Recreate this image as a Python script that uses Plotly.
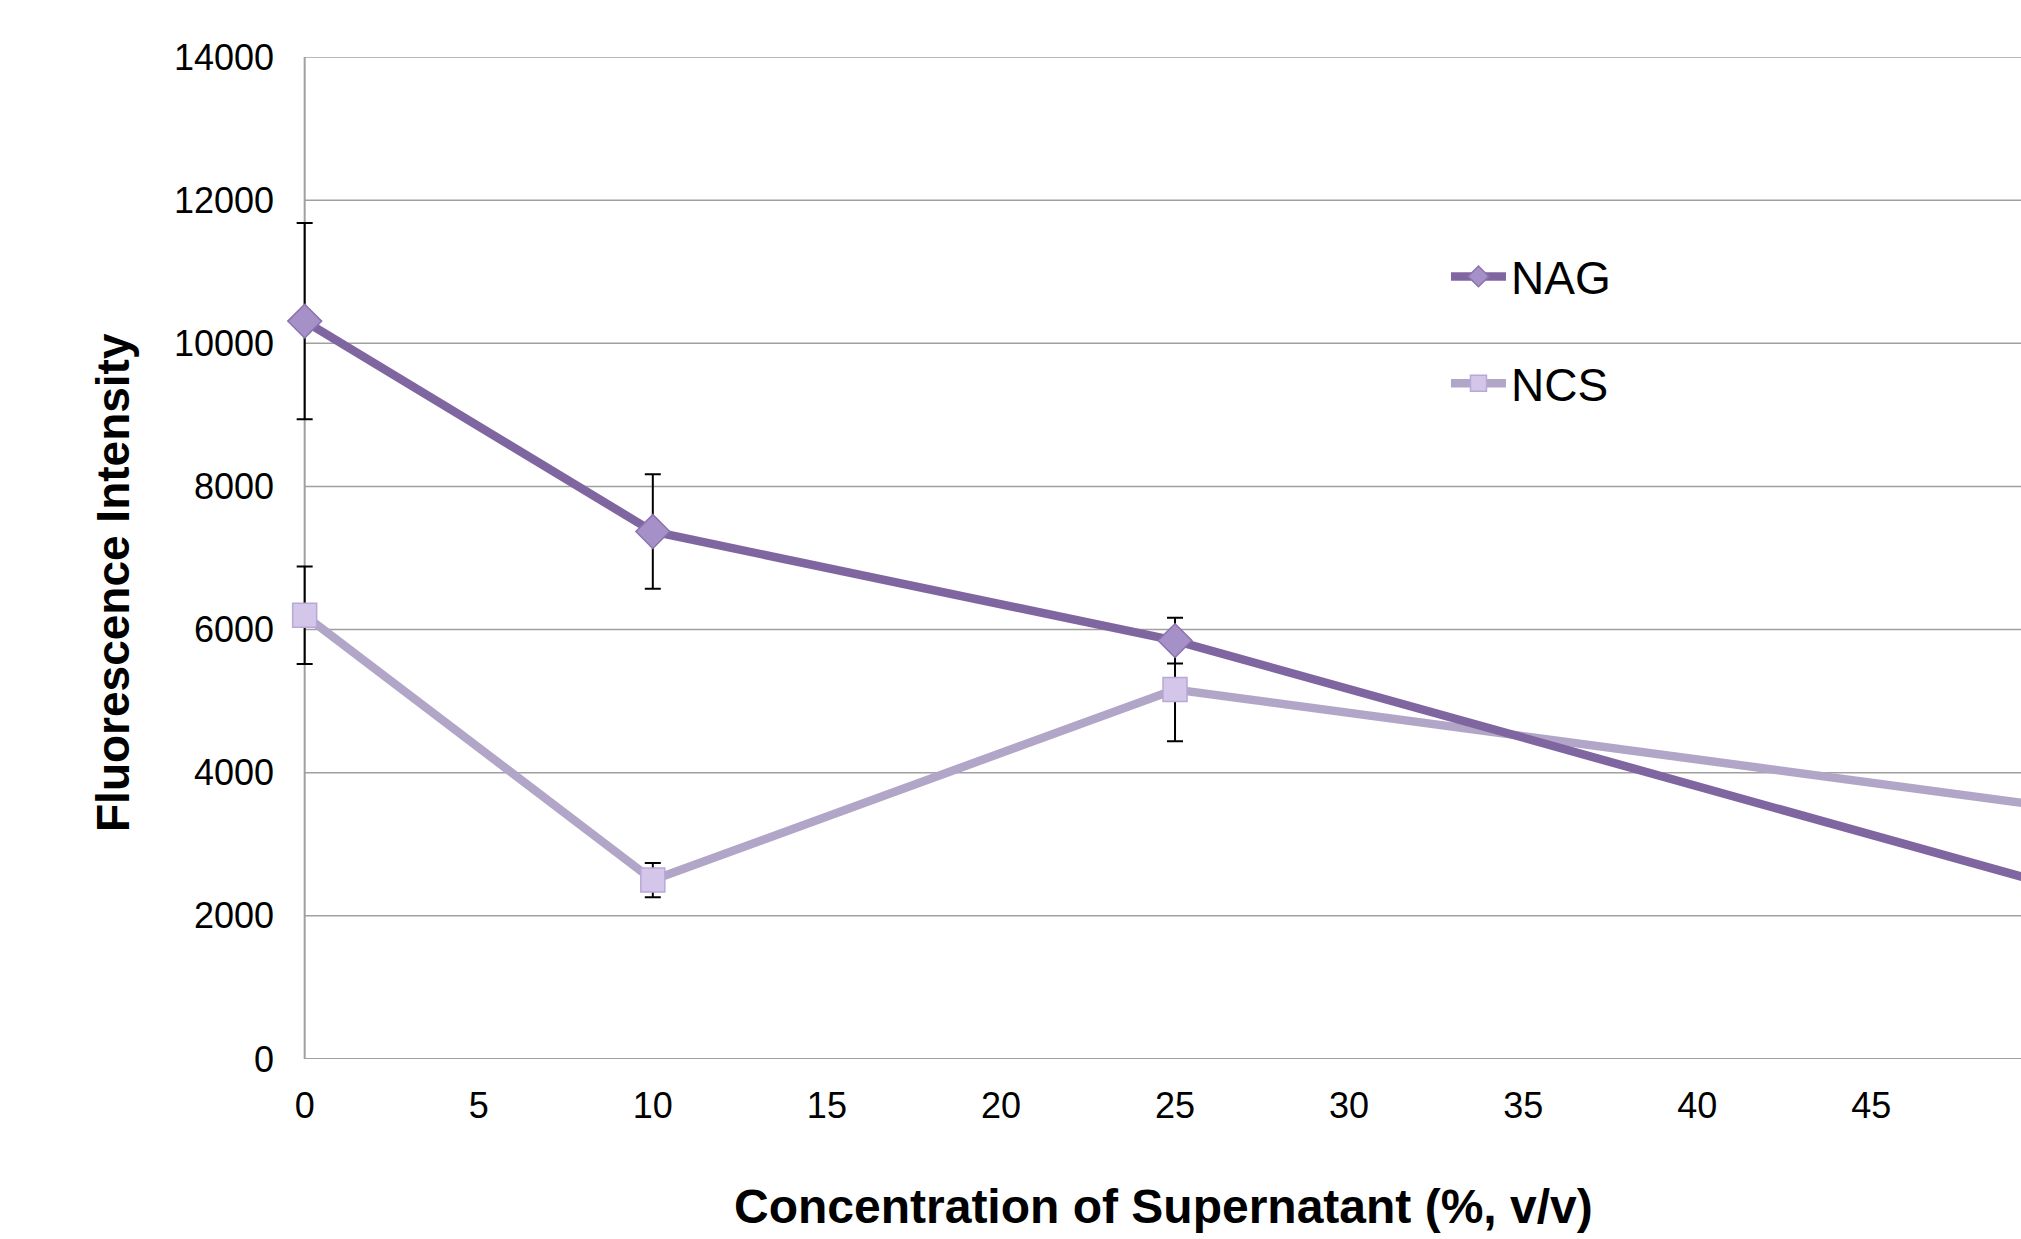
import plotly.graph_objects as go

x_vals = [0, 10, 25, 50]
nag = [10310, 7370, 5846, 2455]
nag_err = [1370, 800, 320, 0]
ncs = [6200, 2500, 5163, 3535]
ncs_err = [680, 240, 722, 0]

x_ticks = [0, 5, 10, 15, 20, 25, 30, 35, 40, 45]
y_ticks = [0, 2000, 4000, 6000, 8000, 10000, 12000, 14000]

X_MIN, X_MAX = -0.45, 49.3
FONT = "Liberation Sans, Arial, sans-serif"
GRID = "#A0A0A0"

fig = go.Figure()
fig.add_trace(go.Scatter(
    x=x_vals, y=ncs, name="NCS", mode="lines+markers", legendgroup="b", legendrank=2,
    line=dict(color="#B2A6C8", width=8.5), cliponaxis=False,
    marker=dict(symbol="square", size=24, color="#D3C6E9",
                line=dict(color="#B9A8D6", width=1.5)),
    error_y=dict(type="data", array=ncs_err, visible=True, color="black",
                 thickness=2, width=8),
))
fig.add_trace(go.Scatter(
    x=x_vals, y=nag, name="NAG", mode="lines+markers", legendgroup="a", legendrank=1,
    line=dict(color="#8066A0", width=8.5), cliponaxis=False,
    marker=dict(symbol="diamond", size=26, color="#A591C8",
                line=dict(color="#8A74AE", width=1.5)),
    error_y=dict(type="data", array=nag_err, visible=True, color="black",
                 thickness=2, width=8),
))

shapes = []
for yv in y_ticks:
    shapes.append(dict(type="line", xref="x", yref="y", x0=0, x1=X_MAX, y0=yv, y1=yv,
                       line=dict(color=GRID, width=2 if yv == 0 else 1.5), layer="below"))
shapes.append(dict(type="line", xref="x", yref="y", x0=0, x1=0, y0=0, y1=y_ticks[-1],
                   line=dict(color=GRID, width=2), layer="below"))

L = 289
plot_w = 2021 - L
plot_h = 1239 - 57 - 180

fig.update_layout(
    width=2021, height=1239,
    margin=dict(l=L, r=0, t=57, b=180),
    paper_bgcolor="white", plot_bgcolor="white",
    font=dict(family=FONT, color="black", size=36),
    showlegend=True,
    shapes=shapes,
    legend=dict(x=0.668, y=(1239 - 180 - 330) / plot_h, xanchor="left", yanchor="middle",
                traceorder="grouped", tracegroupgap=44,
                font=dict(size=46, family=FONT), itemwidth=55,
                bgcolor="rgba(0,0,0,0)"),
    xaxis=dict(range=[X_MIN, X_MAX], tickvals=x_ticks, ticktext=[str(v) for v in x_ticks],
               showgrid=False, zeroline=False, showline=False,
               ticks="", tickfont=dict(size=36, family=FONT),
               ticklabelstandoff=22),
    yaxis=dict(range=[0, 14000], tickvals=y_ticks, ticktext=[str(v) for v in y_ticks],
               showgrid=False, zeroline=False, showline=False, ticks="",
               tickfont=dict(size=36, family=FONT), ticklabelstandoff=14),
    annotations=[
        dict(text="<b>Concentration of Supernatant (%, v/v)</b>", x=(1163 - L) / plot_w,
             xref="paper", y=(1239 - 180 - 1206) / plot_h, yref="paper", showarrow=False,
             font=dict(size=48, family=FONT), xanchor="center", yanchor="middle"),
        dict(text="<b>Fluorescence Intensity</b>", x=(113 - L) / plot_w, xref="paper",
             y=(1239 - 180 - 583) / plot_h, yref="paper", showarrow=False, textangle=-90,
             font=dict(size=46, family=FONT), xanchor="center", yanchor="middle"),
    ],
)

fig.write_html("out.html")
